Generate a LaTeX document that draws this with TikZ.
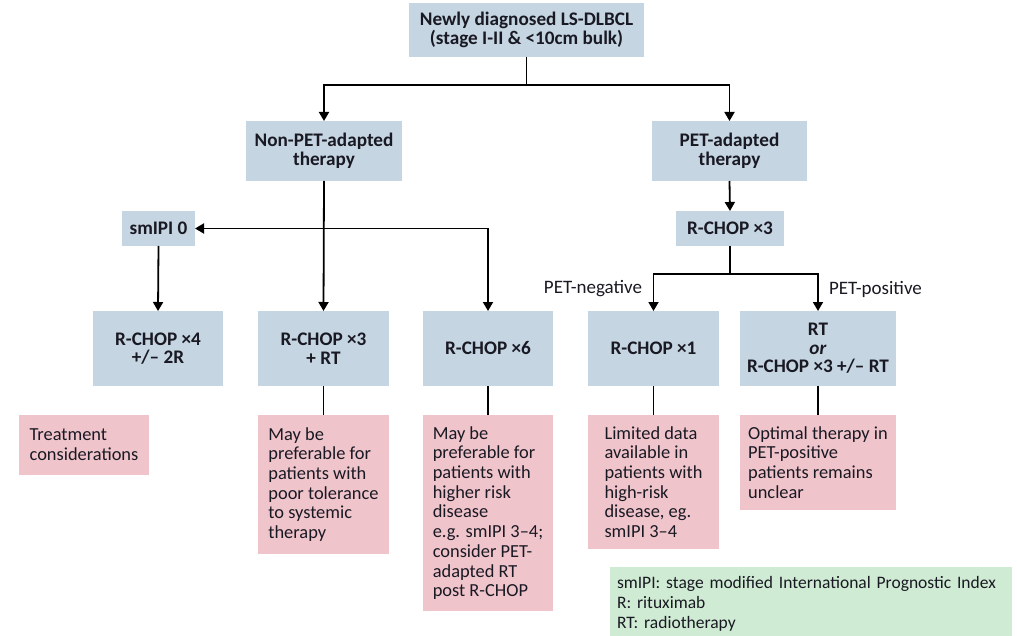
\documentclass[tikz,border=0pt]{standalone}
\usepackage{fontspec}
\setmainfont{Carlito}
\usetikzlibrary{arrows.meta}
\definecolor{bluebox}{RGB}{197,213,226}
\definecolor{pinkbox}{RGB}{240,196,203}
\definecolor{greenbox}{RGB}{208,235,211}
\definecolor{txt}{RGB}{25,25,35}
\hyphenpenalty=10000
\begin{document}
\begin{tikzpicture}[x=1pt,y=-1pt,
  every node/.style={inner sep=0pt, outer sep=0pt, text=txt},
  sz/.style 2 args={minimum width=#1, minimum height=#2},
  bbox/.style={fill=bluebox, align=center, font=\fontsize{19.2}{18.6}\selectfont\bfseries},
  pbox/.style={fill=pinkbox, align=left, font=\fontsize{18.4}{19.7}\selectfont},
  gbox/.style={fill=greenbox, align=left, font=\fontsize{17.5}{20}\selectfont},
  lbl/.style={font=\fontsize{19}{20}\selectfont},
  ln/.style={line width=1.8pt, draw=black},
  arr/.style={ln, -{Triangle[length=9pt,width=10pt]}}
]
\useasboundingbox (0,0) rectangle (1017,636);

% top
\node[bbox, sz={235}{54}] (top) at (526.5,30) {Newly diagnosed LS-DLBCL\\(stage I-II \& <10cm bulk)};
\node[bbox, sz={156}{60}] (nonpet) at (324,151) {Non-PET-adapted\\therapy};
\node[bbox, sz={155}{60}] (pet) at (729.5,151) {PET-adapted\\therapy};
\node[bbox, sz={73}{35}] (smipi) at (158.5,228.5) {smIPI 0};
\node[bbox, sz={108}{35}] (rc3p) at (730,228.5) {R-CHOP ×3};

% blue row
\node[bbox, sz={130}{75}] (b1) at (158,348.5) {R-CHOP ×4\\+/– 2R};
\node[bbox, sz={131}{75}] (b2) at (323.5,348.5) {R-CHOP ×3\\+ RT};
\node[bbox, sz={130}{75}] (b3) at (488,348.5) {R-CHOP ×6};
\node[bbox, sz={131}{75}] (b4) at (653.5,348.5) {R-CHOP ×1};
\node[bbox, sz={156}{75}] (b5) at (818,348.5) {RT\\\textit{or}\\R-CHOP ×3 +/– RT};

% pink row
\node[pbox, sz={130}{60}] (p0) at (84,445) {Treatment\\considerations};
\node[pbox, sz={131}{139}] (p2) at (323.5,484.5) {May be\\preferable for\\patients with\\poor tolerance\\to systemic\\therapy};
\node[pbox, sz={130}{196}] (p3) at (488,513) {May be\\preferable for\\patients with\\higher risk\\disease\\e.g. smIPI 3–4;\\consider PET-\\adapted RT\\post R-CHOP};
\node[pbox, sz={131}{134}] (p4) at (653.5,482) {Limited data\\available in\\patients with\\high-risk\\disease, eg.\\smIPI 3–4};
\node[pbox, sz={156}{95}] (p5) at (818,462.5) {Optimal therapy in\\PET-positive\\patients remains\\unclear};

% legend
\node[gbox, sz={402}{73}, anchor=north west, text width=388pt, inner xsep=7pt] (legend) at (610,567) {smIPI: stage modified International Prognostic Index\\R: rituximab\\RT: radiotherapy};

% labels
\node[lbl, anchor=east] (neg) at (642,289) {PET-negative};
\node[lbl, anchor=west] (pos) at (829,289) {PET-positive};

% junctions
\coordinate (j1) at (526.5,85);
\coordinate (j2) at (324,228.5);
\coordinate (j3) at (730,274);

% connectors
\draw[ln] (top.south) -- (j1);
\draw[arr] (j1) -| (nonpet.north);
\draw[arr] (j1) -| (pet.north);
\draw[arr] (nonpet.south) -- (b2.north);
\draw[arr] (j2) -- (smipi.east);
\draw[arr] (j2) -| (b3.north);
\draw[arr] (smipi.south) -- (b1.north);
\draw[arr] (pet.south) -- (rc3p.north);
\draw[ln] (rc3p.south) -- (j3);
\draw[arr] (j3) -| (b4.north);
\draw[arr] (j3) -| (b5.north);
\draw[ln] (b2.south) -- (p2.north);
\draw[ln] (b3.south) -- (p3.north);
\draw[ln] (b4.south) -- (p4.north);
\draw[ln] (b5.south) -- (p5.north);
\end{tikzpicture}
\end{document}
